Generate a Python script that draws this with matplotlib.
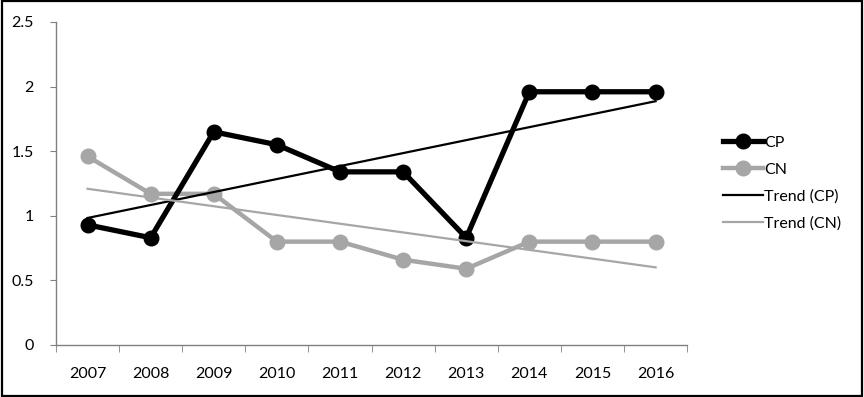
import numpy as np
import matplotlib.pyplot as plt
from matplotlib.patches import Rectangle
from matplotlib.lines import Line2D

# -------------------------
# data
# -------------------------
years = ["2007", "2008", "2009", "2010", "2011", "2012", "2013", "2014", "2015", "2016"]
cp = [0.93, 0.83, 1.65, 1.55, 1.34, 1.34, 0.83, 1.96, 1.96, 1.96]
cn = [1.46, 1.17, 1.17, 0.80, 0.80, 0.66, 0.59, 0.80, 0.80, 0.80]

plt.rcParams['font.family'] = ['Lato', 'DejaVu Sans']

x = np.arange(len(years))

# linear trend lines like the Excel ones
cp_fit = np.polyval(np.polyfit(x, cp, 1), x)
cn_fit = np.polyval(np.polyfit(x, cn, 1), x)

fig = plt.figure(figsize=(8.64, 3.97), dpi=100)
ax = fig.add_axes([0.0648, 0.131, 0.7305, 0.8136])

black = "#000000"
grey = "#a6a6a6"

ax.plot(x, cp, color=black, lw=3.8, marker="o", ms=10.5, zorder=4, label="CP")
ax.plot(x, cn, color=grey, lw=3.2, marker="o", ms=10.5, zorder=3, label="CN")
ax.plot(x, cp_fit, color=black, lw=1.6, zorder=5, label="Trend (CP)")
ax.plot(x, cn_fit, color=grey, lw=1.6, zorder=5, label="Trend (CN)")

ax.set_xlim(-0.5, len(years) - 0.5)
ax.set_ylim(0, 2.5)
ax.set_yticks([0, 0.5, 1, 1.5, 2, 2.5])
ax.set_yticklabels(["0", "0.5", "1", "1.5", "2", "2.5"])
ax.set_xticks(x)
ax.set_xticklabels(years)
ax.set_xticks(np.arange(-0.5, len(years)), minor=True)

for s in ["top", "right"]:
    ax.spines[s].set_visible(False)
for s in ["left", "bottom"]:
    ax.spines[s].set_color("#808080")
    ax.spines[s].set_linewidth(1.0)

ax.tick_params(axis="y", length=4, color="#808080", pad=12, labelsize=11.5)
ax.tick_params(axis="x", which="major", length=0, pad=16, labelsize=11.5)
ax.tick_params(axis="x", which="minor", length=5, color="#808080")

handles = [
    Line2D([], [], color=black, lw=3.8, marker="o", ms=10.5),
    Line2D([], [], color=grey, lw=3.2, marker="o", ms=10.5),
    Line2D([], [], color=black, lw=1.6),
    Line2D([], [], color=grey, lw=1.6),
]
fig.legend(handles, ["CP", "CN", "Trend (CP)", "Trend (CN)"],
           loc="upper left", bbox_to_anchor=(0.829, 0.675), frameon=False,
           fontsize=11.5, handlelength=2.5, handletextpad=0.1,
           labelspacing=0.8, borderaxespad=0)

# frame round the whole picture
fig.patches.append(Rectangle((0.002, 0.003), 0.996, 0.994, transform=fig.transFigure,
                             fill=False, edgecolor="black", lw=1.6))

fig.savefig("out.png", dpi=100)
